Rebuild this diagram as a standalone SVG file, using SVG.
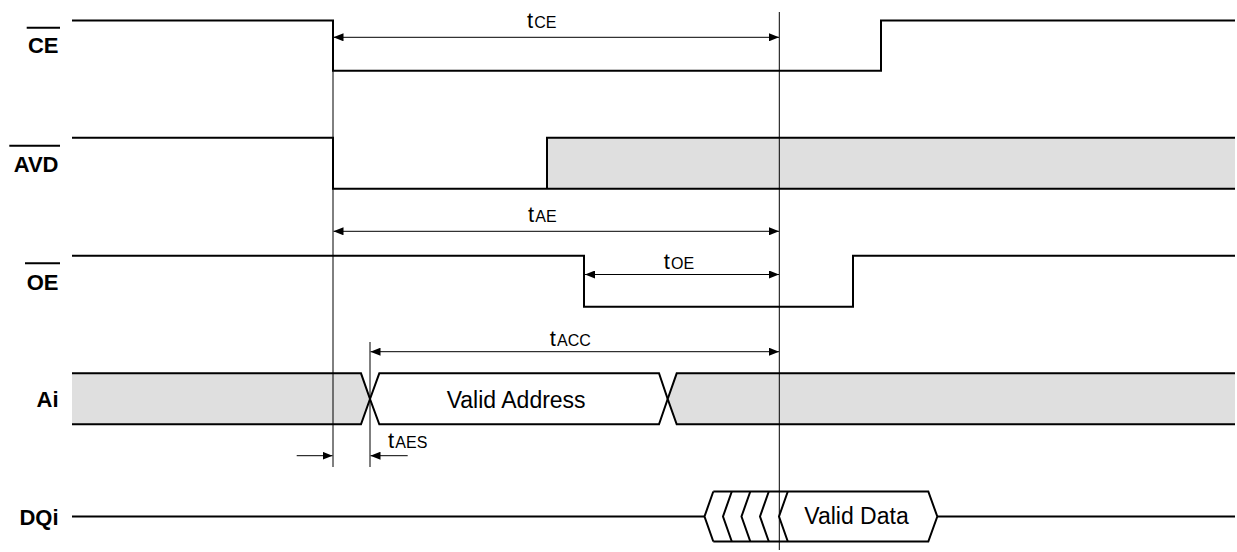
<svg xmlns="http://www.w3.org/2000/svg" width="1237" height="552" viewBox="0 0 1237 552">
<style>
.sig{fill:none;stroke:#000;stroke-width:2;stroke-linejoin:miter}
.gray{fill:#dfdfdf;stroke:none}
.ref{fill:none;stroke:#000;stroke-width:1}
.arr{fill:none;stroke:#000;stroke-width:1}
.lbl{font-family:"Liberation Sans",Arial,sans-serif;font-weight:bold;font-size:22px;fill:#000;text-anchor:end}
.ovl{stroke:#000;stroke-width:2}
.tm{font-family:"Liberation Sans",Arial,sans-serif;fill:#000}
.t{font-size:22px}
.s{font-size:16px}
.txt{font-family:"Liberation Sans",Arial,sans-serif;font-size:23px;fill:#000}
</style>
<defs>
<marker id="ah" viewBox="0 0 10 8" refX="10" refY="4" markerWidth="10" markerHeight="8" markerUnits="userSpaceOnUse" orient="auto-start-reverse">
<path d="M0,0 L10,4 L0,8 z" fill="#000"/>
</marker>
</defs>
<rect width="1237" height="552" fill="#fff"/>

<g id="sig-ce">
<text class="lbl" x="58.5" y="53.3">CE</text>
<line class="ovl" x1="26.7" y1="27.7" x2="60" y2="27.7"/>
<polyline class="sig" points="72,20.5 333,20.5 333,70.7 881,70.7 881,20.5 1235,20.5"/>
</g>

<g id="sig-avd">
<text class="lbl" x="58.5" y="171.7">AVD</text>
<line class="ovl" x1="9.3" y1="145.7" x2="60" y2="145.7"/>
<rect class="gray" x="547" y="137.7" width="688" height="51"/>
<polyline class="sig" points="72,137.7 333,137.7 333,188.7 1235,188.7"/>
<polyline class="sig" points="547,188.7 547,137.7 1235,137.7"/>
</g>

<g id="sig-oe">
<text class="lbl" x="58.5" y="290">OE</text>
<line class="ovl" x1="25" y1="263.3" x2="60" y2="263.3"/>
<polyline class="sig" points="72,255.7 584,255.7 584,306.7 853,306.7 853,255.7 1235,255.7"/>
</g>

<g id="sig-ai">
<text class="lbl" x="58.5" y="406.7">Ai</text>
<polygon class="gray" points="72,373.3 361,373.3 370,399 361,424.3 72,424.3"/>
<polyline class="sig" points="72,373.3 361,373.3 370,399 361,424.3 72,424.3"/>
<polygon class="sig" points="370,399 379.3,373.3 659,373.3 667.7,399 659,424.3 379.3,424.3" style="fill:#fff"/>
<polygon class="gray" points="667.7,399 676.7,373.3 1235,373.3 1235,424.3 676.7,424.3"/>
<polyline class="sig" points="1235,373.3 676.7,373.3 667.7,399 676.7,424.3 1235,424.3"/>
<text class="txt" x="446.7" y="407.7">Valid Address</text>
</g>

<g id="sig-dqi">
<text class="lbl" x="58.5" y="525">DQi</text>
<line class="sig" x1="72" y1="516.5" x2="704.5" y2="516.5"/>
<line class="sig" x1="937.3" y1="516.5" x2="1235" y2="516.5"/>
<polyline class="sig" points="713.3,491.5 704.5,516.5 713.3,541.5"/>
<polyline class="sig" points="731.8,491.5 723,516.5 731.8,541.5"/>
<polyline class="sig" points="750.3,491.5 741.5,516.5 750.3,541.5"/>
<polyline class="sig" points="768.8,491.5 760,516.5 768.8,541.5"/>
<polyline class="sig" points="787.8,491.5 779,516.5 787.8,541.5"/>
<polyline class="sig" points="713.3,491.5 928.3,491.5 937.3,516.5 928.3,541.5 713.3,541.5"/>
<text class="txt" x="804.3" y="524.3">Valid Data</text>
</g>

<g id="connectors">
<line class="ref" x1="333" y1="60" x2="333" y2="467"/>
<line class="ref" x1="370" y1="342" x2="370" y2="467"/>
<line class="ref" x1="779.3" y1="12" x2="779.3" y2="550"/>

<line class="arr" x1="333.5" y1="37.3" x2="779" y2="37.3" marker-start="url(#ah)" marker-end="url(#ah)"/>
<line class="arr" x1="333.5" y1="231.3" x2="779" y2="231.3" marker-start="url(#ah)" marker-end="url(#ah)"/>
<line class="arr" x1="585" y1="274.5" x2="779" y2="274.5" marker-start="url(#ah)" marker-end="url(#ah)"/>
<line class="arr" x1="370.5" y1="351.7" x2="779" y2="351.7" marker-start="url(#ah)" marker-end="url(#ah)"/>
<line class="arr" x1="296.7" y1="455.7" x2="332.5" y2="455.7" marker-end="url(#ah)"/>
<line class="arr" x1="407.7" y1="455.7" x2="370.5" y2="455.7" marker-end="url(#ah)"/>

<text class="tm" y="27.7"><tspan class="t" x="527">t</tspan><tspan class="s" x="534.3">CE</tspan></text>
<text class="tm" y="222.3"><tspan class="t" x="528">t</tspan><tspan class="s" x="535.3">AE</tspan></text>
<text class="tm" y="269"><tspan class="t" x="663.7">t</tspan><tspan class="s" x="671">OE</tspan></text>
<text class="tm" y="345.7"><tspan class="t" x="549.7">t</tspan><tspan class="s" x="557">ACC</tspan></text>
<text class="tm" y="448.3"><tspan class="t" x="388">t</tspan><tspan class="s" x="395.3">AES</tspan></text>
</g>
</svg>
